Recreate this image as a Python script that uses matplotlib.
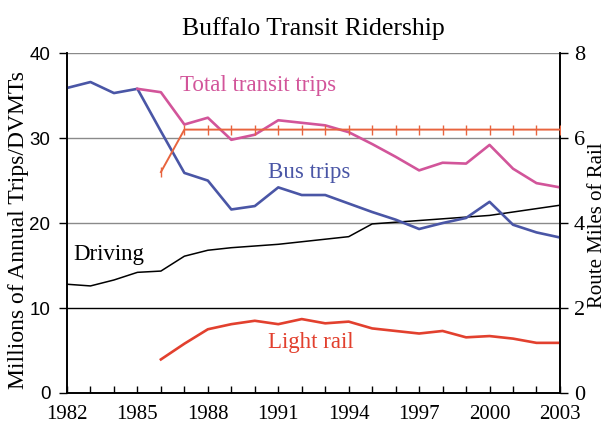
import numpy as np
import matplotlib
matplotlib.use('Agg')
import matplotlib.pyplot as plt

# Data
years = list(range(1982, 2004))

bus_trips = [35.9, 36.6, 35.3, 35.8, 30.8, 25.9, 25.0, 21.6, 22.0, 24.2, 23.3,
             23.3, 22.3, 21.3, 20.4, 19.3, 20.0, 20.6, 22.5, 19.8, 18.9, 18.3]

total_years = list(range(1985, 2004))
total_trips = [35.8, 35.4, 31.6, 32.4, 29.8, 30.4, 32.1, 31.8, 31.5, 30.7,
               29.3, 27.8, 26.2, 27.1, 27.0, 29.2, 26.4, 24.7, 24.2]

driving = [12.8, 12.6, 13.3, 14.2, 14.35, 16.1, 16.8, 17.1, 17.3, 17.5, 17.8,
           18.1, 18.4, 19.9, 20.1, 20.3, 20.5, 20.7, 20.9, 21.3, 21.7, 22.1]

rail_years = list(range(1986, 2004))
light_rail = [3.95, 5.8, 7.5, 8.1, 8.5, 8.1, 8.7, 8.2, 8.4, 7.6, 7.3, 7.0,
              7.3, 6.55, 6.7, 6.4, 5.9, 5.9]
route_miles = [5.2] + [6.2] * 17

left_ticks = [0, 10, 20, 30, 40]
right_ticks = [0, 2, 4, 6, 8]
year_labels = list(range(1982, 2004, 3))

c_bus = '#4a56a6'
c_total = '#d2559a'
c_rail = '#e2402e'
c_route = '#e8643e'

serif = ['Liberation Serif', 'DejaVu Serif']

fig = plt.figure(figsize=(6.08, 4.32), dpi=100)
ax = fig.add_axes([0.1102, 0.0903, 0.8108, 0.7867])
ax2 = ax.twinx()

# gridlines
for v in [20, 30, 40]:
    ax.axhline(v, color='#8a8a8a', lw=1.0, zorder=1)
ax.axhline(10, color='black', lw=1.0, zorder=1)

ax.plot(years, driving, color='black', lw=1.1, zorder=3)
ax.plot(years, bus_trips, color=c_bus, lw=1.9, zorder=4)
ax.plot(total_years, total_trips, color=c_total, lw=1.9, zorder=4)
ax.plot(rail_years, light_rail, color=c_rail, lw=1.9, zorder=4)
ax2.plot(rail_years, route_miles, color=c_route, lw=1.4, marker='|',
         markersize=7, markeredgewidth=1.0, zorder=4)

ax.set_xlim(1982, 2003)
ax.set_ylim(0, 40)
ax2.set_ylim(0, 8)

ax.set_xticks(years, minor=False)
ax.set_xticklabels([str(y) if y in year_labels else '' for y in years],
                   family=serif, fontsize=15)
ax.set_yticks(left_ticks)
ax.set_yticklabels([str(v) for v in left_ticks], family='Liberation Sans',
                   fontsize=13.5)
ax2.set_yticks(right_ticks)
ax2.set_yticklabels([str(v) for v in right_ticks], family=serif, fontsize=16)

ax.tick_params(axis='x', direction='in', length=5, width=1, pad=9)
ax.tick_params(axis='y', direction='out', length=6, width=1, pad=6)
ax2.tick_params(axis='y', direction='out', length=6, width=1, pad=4)

for a in (ax, ax2):
    a.spines['top'].set_visible(False)
    for s in ['left', 'right', 'bottom']:
        a.spines[s].set_linewidth(1.2)

# axis labels placed in figure pixels to match the reference
fig.text(19 / 608, 1 - 230 / 432, 'Millions of Annual Trips/DVMTs',
         family=serif, fontsize=17, rotation=90, ha='center', va='center')
fig.text(607 / 608, 1 - 225 / 432, 'Route Miles of Rail', family=serif,
         fontsize=15, rotation=90, ha='right', va='center')

ax.set_title('Buffalo Transit Ridership', family=serif, fontsize=18.5, pad=13)

ax.text(1986.81, 36.2, 'Total transit trips', color=c_total, family=serif,
        fontsize=16.5, va='center', zorder=5)
ax.text(1990.56, 26.0, 'Bus trips', color=c_bus, family=serif,
        fontsize=16.5, va='center', zorder=5)
ax.text(1982.26, 16.35, 'Driving', color='black', family=serif,
        fontsize=16.5, va='center', zorder=5)
ax.text(1990.56, 5.9, 'Light rail', color=c_rail, family=serif,
        fontsize=16.5, va='center', zorder=5)

fig.savefig('out.png', dpi=100)
